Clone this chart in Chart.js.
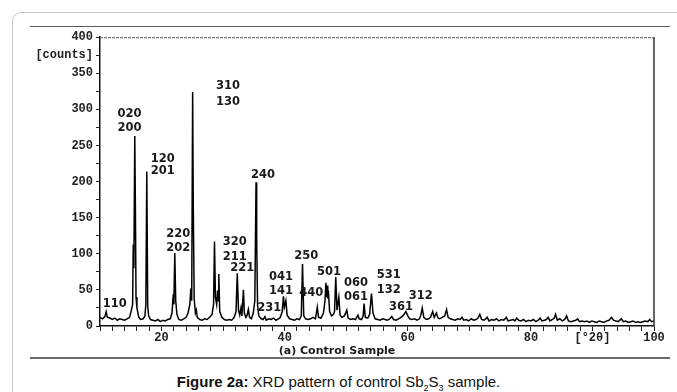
<!DOCTYPE html>
<html>
<head>
<meta charset="utf-8">
<script src="https://cdn.jsdelivr.net/npm/chart.js@4/dist/chart.umd.min.js"></script>
<style>
    html, body { margin: 0; padding: 0; background: #fff; }
    body { width: 677px; height: 392px; position: relative; overflow: hidden; font-family: "Liberation Sans", Arial, sans-serif; }
    .card { position: absolute; left: 12px; top: 12px; width: 720px; height: 420px; border: 1px solid #c9c9c9; border-radius: 9px; }
    .figure { position: absolute; left: 30px; top: 26px; width: 640px; height: 330px; border-top: 1.5px solid #5a5a5a; border-bottom: 2px solid #6a6a6a; }
    #xrd { position: absolute; left: 30px; top: 27px; }
    .caption { position: absolute; left: 0; width: 677px; top: 373px; text-align: center; font-size: 15px; color: #111; }
    .caption sub { font-size: 9px; }
</style>
</head>
<body>
<div class="card"></div>
<div class="figure"></div>
<canvas id="xrd" width="640" height="329"></canvas>
<div class="caption"><b>Figure 2a:</b> XRD pattern of control Sb<sub>2</sub>S<sub>3</sub> sample.</div>

<script>
// scan: 2θ (deg) and intensity (counts)
const twoTheta = [
    10.0, 10.4, 10.8, 11.0, 11.2, 11.6, 12.0, 12.4, 12.8, 13.2,
    13.6, 14.0, 14.4, 14.8, 15.1, 15.3, 15.4, 15.5, 15.65, 15.75,
    15.85, 16.0, 16.3, 16.6, 17.0, 17.3, 17.45, 17.6, 17.75, 17.9,
    18.2, 18.6, 19.0, 19.4, 19.8, 20.2, 20.6, 21.0, 21.4, 21.7,
    21.9, 22.0, 22.15, 22.3, 22.5, 22.8, 23.2, 23.6, 24.0, 24.3,
    24.6, 24.75, 24.9, 25.05, 25.15, 25.3, 25.5, 25.65, 25.8, 26.2,
    26.6, 27.0, 27.4, 27.8, 28.2, 28.45, 28.6, 28.75, 28.95, 29.1,
    29.2, 29.3, 29.45, 29.8, 30.2, 30.6, 31.0, 31.4, 31.8, 32.1,
    32.3, 32.5, 32.7, 32.9, 33.05, 33.3, 33.45, 33.7, 33.9, 34.1,
    34.3, 34.6, 34.9, 35.15, 35.35, 35.45, 35.6, 35.8, 36.2, 36.5,
    36.8, 37.0, 37.4, 37.8, 38.2, 38.6, 39.0, 39.3, 39.6, 39.8,
    39.95, 40.2, 40.4, 40.8, 41.2, 41.6, 42.0, 42.4, 42.7, 42.9,
    43.1, 43.4, 43.8, 44.2, 44.6, 45.0, 45.3, 45.5, 45.9, 46.3,
    46.55, 46.7, 46.8, 46.9, 47.0, 47.1, 47.3, 47.6, 47.9, 48.1,
    48.3, 48.5, 48.8, 49.0, 49.3, 49.7, 50.1, 50.3, 50.7, 51.1,
    51.5, 51.9, 52.1, 52.5, 52.75, 52.9, 53.1, 53.5, 53.8, 54.1,
    54.35, 54.7, 55.1, 55.5, 55.9, 56.3, 56.7, 57.1, 57.4, 57.7,
    58.1, 58.5, 58.9, 59.3, 59.7, 60.0, 60.3, 60.7, 61.1, 61.5,
    61.9, 62.1, 62.35, 62.6, 63.0, 63.4, 63.7, 64.05, 64.3, 64.65,
    64.9, 65.2, 65.6, 66.0, 66.3, 66.55, 66.9, 67.3, 67.7, 68.1,
    68.5, 68.8, 69.1, 69.5, 69.9, 70.3, 70.7, 71.1, 71.4, 71.7,
    72.0, 72.4, 72.9, 73.2, 73.6, 74.0, 74.4, 74.8, 75.2, 75.6,
    76.0, 76.3, 76.7, 77.1, 77.4, 77.7, 78.0, 78.4, 78.8, 79.2,
    79.6, 80.0, 80.4, 80.8, 81.2, 81.5, 81.8, 82.2, 82.5, 82.8,
    83.1, 83.5, 83.8, 84.0, 84.3, 84.7, 85.1, 85.5, 85.8, 86.1,
    86.5, 86.9, 87.3, 87.6, 87.9, 88.3, 88.7, 89.1, 89.5, 89.9,
    90.3, 90.7, 91.1, 91.5, 91.9, 92.3, 92.7, 93.1, 93.4, 93.8,
    94.2, 94.7, 95.0, 95.4, 95.8, 96.2, 96.6, 97.0, 97.4, 97.8,
    98.2, 98.6, 99.0, 99.3, 99.6, 100.0
];
const counts = [
    12, 10, 13, 20, 12, 11, 9, 11, 8, 10,
    9, 8, 10, 12, 22, 30, 113, 80, 263, 165,
    40, 25, 12, 9, 10, 14, 30, 214, 28, 14,
    9, 8, 7, 9, 6, 8, 7, 9, 10, 18,
    44, 30, 101, 35, 16, 9, 8, 10, 12, 18,
    30, 52, 35, 324, 170, 38, 18, 22, 12, 9,
    8, 10, 9, 12, 16, 30, 117, 40, 30, 49,
    35, 72, 20, 12, 9, 8, 9, 8, 12, 20,
    73, 22, 15, 25, 14, 50, 18, 12, 15, 23,
    12, 10, 18, 35, 199, 120, 28, 14, 10, 9,
    13, 8, 10, 9, 11, 8, 10, 12, 20, 41,
    26, 35, 15, 10, 9, 8, 10, 9, 14, 86,
    14, 10, 9, 10, 12, 10, 26, 12, 11, 18,
    35, 60, 40, 56, 38, 49, 20, 14, 16, 20,
    68, 22, 40, 15, 12, 14, 22, 11, 9, 10,
    9, 15, 10, 9, 14, 31, 12, 11, 16, 45,
    18, 10, 9, 8, 10, 9, 8, 10, 13, 9,
    8, 10, 12, 15, 20, 14, 10, 9, 10, 8,
    10, 14, 25, 12, 9, 10, 12, 20, 12, 18,
    11, 10, 12, 14, 23, 12, 10, 9, 8, 10,
    9, 12, 8, 9, 7, 10, 8, 9, 11, 16,
    9, 8, 12, 7, 9, 8, 10, 7, 9, 8,
    12, 7, 8, 9, 7, 11, 8, 7, 9, 6,
    8, 7, 9, 6, 8, 11, 7, 8, 9, 12,
    7, 9, 11, 16, 8, 10, 7, 9, 14, 7,
    6, 7, 8, 10, 6, 7, 6, 7, 5, 7,
    6, 5, 7, 6, 5, 7, 8, 12, 8, 7,
    6, 10, 6, 7, 5, 6, 7, 5, 6, 5,
    6, 7, 6, 9, 6, 7
];

// (hkl) labels and where they sit, in 2θ / counts
const hklLabels = ["110", "020", "200", "120", "201", "310", "130", "240", "220", "202",
    "320", "211", "221", "231", "041", "141", "250", "440", "501", "060",
    "061", "531", "132", "361", "312"];
const hklTheta = [12.4, 14.8, 14.8, 20.2, 20.2, 30.8, 30.8, 36.5, 22.7, 22.7,
    31.9, 31.9, 33.1, 37.5, 39.4, 39.4, 43.5, 44.3, 47.2, 51.6,
    51.6, 56.9, 56.9, 58.9, 62.1];
const hklCounts = [31, 294, 274, 231, 214, 333, 310, 209, 127, 108,
    116, 96, 80, 25, 68, 48, 97, 45, 75, 60,
    40, 70, 50, 26, 41];

// axis text
const yTickText = { 400: "400", 375: "[counts]", 350: "350", 300: "300", 250: "250", 200: "200", 150: "150", 100: "100", 50: "50", 0: "0" };
const xTickText = { 20: "20", 40: "40", 60: "60", 80: "80", 90: "[\u00b02\u03b8]", 100: "100" };
const sampleTitle = "(a) Control Sample";

const tickFont = { family: "'Liberation Mono', 'DejaVu Sans Mono', monospace", size: 12, weight: "bold" };

// frame, hkl labels and sample title
const decorations = {
    id: "decorations",
    afterDraw(chart){
        const { ctx, chartArea: a, scales: { x, y } } = chart;
        ctx.save();
        // dashed top edge + right edge of the frame
        ctx.strokeStyle = "#555";
        ctx.lineWidth = 1;
        ctx.setLineDash([3, 1]);
        ctx.beginPath();
        ctx.moveTo(a.left, a.top + 0.5);
        ctx.lineTo(a.right, a.top + 0.5);
        ctx.stroke();
        ctx.setLineDash([]);
        ctx.strokeStyle = "#333";
        ctx.lineWidth = 1.5;
        ctx.beginPath();
        ctx.moveTo(a.right, a.top);
        ctx.lineTo(a.right, a.bottom);
        ctx.stroke();

        ctx.fillStyle = "#1a1a1a";
        ctx.textAlign = "center";
        ctx.textBaseline = "middle";
        ctx.font = "bold 11.5px 'DejaVu Sans', Verdana, sans-serif";
        hklLabels.forEach((t, i) => {
            ctx.fillText(t, x.getPixelForValue(hklTheta[i]), y.getPixelForValue(hklCounts[i]));
        });

        ctx.font = "bold 11px 'DejaVu Sans', Verdana, sans-serif";
        ctx.fillText(sampleTitle, x.getPixelForValue(48.5), a.bottom + 25);
        ctx.restore();
    }
};

new Chart(document.getElementById("xrd"), {
    type: "line",
    data: {
        datasets: [{
            data: twoTheta.map((t, i) => ({ x: t, y: counts[i] })),
            borderColor: "#000",
            borderWidth: 1.5,
            pointRadius: 0,
            tension: 0,
            fill: false,
        }],
    },
    options: {
        responsive: false,
        animation: false,
        devicePixelRatio: 1,
        layout: { padding: { top: 6, right: 16, left: 0, bottom: 0 } },
        plugins: { legend: { display: false }, tooltip: { enabled: false } },
        scales: {
            x: {
                type: "linear",
                min: 10,
                max: 100,
                afterFit: (s) => { s.height = 30; },
                border: { color: "#111", width: 1.5 },
                grid: { drawOnChartArea: false, tickLength: 5, color: "#222" },
                ticks: {
                    stepSize: 2,
                    autoSkip: false,
                    maxRotation: 0,
                    padding: 0,
                    color: "#222",
                    font: tickFont,
                    callback: (v) => xTickText[v] ?? "",
                },
            },
            y: {
                min: 0,
                max: 400,
                afterFit: (s) => { s.width = 70; },
                border: { color: "#111", width: 1.5 },
                grid: { drawOnChartArea: false, tickLength: 4, color: "#222" },
                ticks: {
                    stepSize: 25,
                    autoSkip: false,
                    padding: 3,
                    color: "#222",
                    font: tickFont,
                    callback: (v) => yTickText[v] ?? "",
                },
            },
        },
    },
    plugins: [decorations],
});
</script>
</body>
</html>
